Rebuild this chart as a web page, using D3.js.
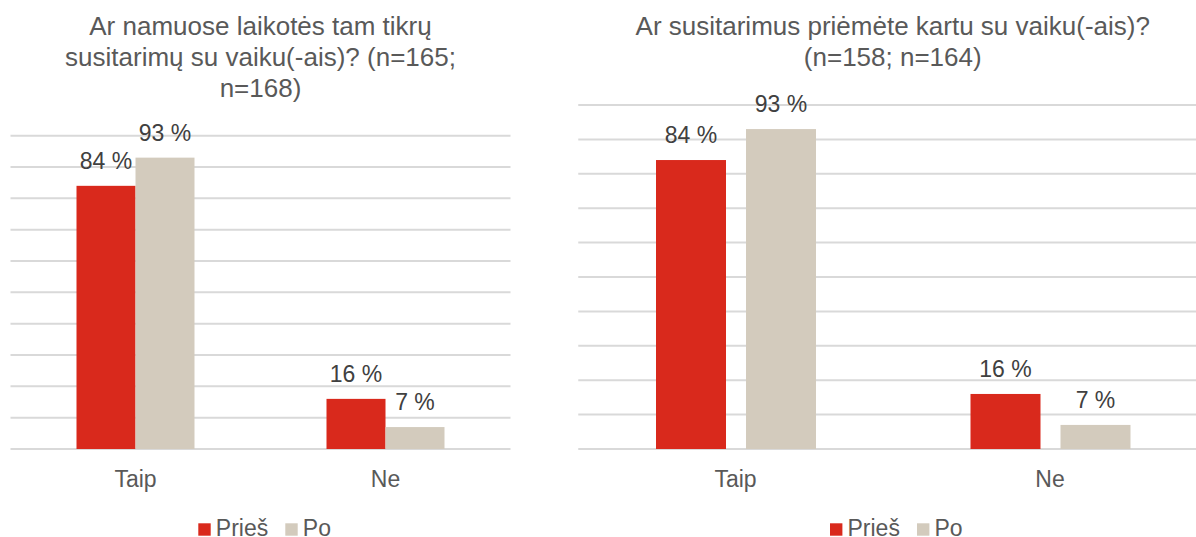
<!DOCTYPE html>
<html><head><meta charset="utf-8">
<script src="https://cdn.jsdelivr.net/npm/d3@7"></script>
<style>body{margin:0;background:#fff;overflow:hidden}svg{display:block;font-family:"Liberation Sans",Arial,sans-serif}</style>
</head><body><svg id="c" width="1196" height="537"></svg>
<script>
const categories = ["Taip", "Ne"];
const seriesNames = ["Prieš", "Po"];
const colors = ["#d9291c", "#d3cbbd"];
const chart1Title = ["Ar namuose laikotės tam tikrų", "susitarimų su vaiku(-ais)? (n=165;", "n=168)"];
const chart1Pries = [84, 16];
const chart1Po = [93, 7];
const chart2Title = ["Ar susitarimus priėmėte kartu su vaiku(-ais)?", "(n=158; n=164)"];
const chart2Pries = [84, 16];
const chart2Po = [93, 7];
const yTicks = [0,10,20,30,40,50,60,70,80,90,100];

const svg = d3.select("#c");

function drawChart(cfg){
  const g = svg.append("g");
  const y = d3.scaleLinear().domain([0,100]).range([cfg.bottom, cfg.top]);
  const x0 = d3.scaleBand().domain(categories).range([cfg.left, cfg.right]).paddingInner(0).paddingOuter(0);
  const x1 = d3.scaleBand().domain(seriesNames).range([cfg.groupOff, cfg.groupOff + cfg.groupW]).paddingInner(cfg.inner).paddingOuter(0);
  const cx = (cfg.left + cfg.right) / 2;
  // title
  g.append("text").attr("text-anchor","middle").attr("fill","#595959").attr("font-size",26)
    .selectAll("tspan").data(cfg.title).join("tspan")
    .attr("x",cx).attr("y",(d,i)=>35 + i*31).text(d=>d);
  // gridlines
  g.append("g").selectAll("line").data(yTicks).join("line")
    .attr("x1",cfg.left).attr("x2",Math.min(cfg.right,1196)).attr("y1",d=>y(d)).attr("y2",d=>y(d))
    .attr("stroke","#d9d9d9").attr("stroke-width",2);
  const rows = [];
  categories.forEach((c,i)=>{
    rows.push({c, s:seriesNames[0], v:cfg.pries[i], col:colors[0]});
    rows.push({c, s:seriesNames[1], v:cfg.po[i], col:colors[1]});
  });
  g.append("g").selectAll("rect").data(rows).join("rect")
    .attr("x",d=>x0(d.c)+x1(d.s)).attr("width",x1.bandwidth())
    .attr("y",d=>y(d.v)).attr("height",d=>y(0)-y(d.v)).attr("fill",d=>d.col);
  g.append("g").selectAll("text").data(rows).join("text")
    .attr("x",d=>x0(d.c)+x1(d.s)+x1.bandwidth()/2).attr("y",d=>y(d.v)-17)
    .attr("text-anchor","middle").attr("fill","#404040").attr("font-size",23)
    .text(d=>d.v+" %");
  // x axis labels
  g.append("g").selectAll("text").data(categories).join("text")
    .attr("x",d=>x0(d)+x0.bandwidth()/2).attr("y",487)
    .attr("text-anchor","middle").attr("fill","#595959").attr("font-size",23).text(d=>d);
  // legend
  const lg = g.append("g").attr("transform",`translate(${cfg.legendX},0)`);
  const items = [{n:seriesNames[0],c:colors[0],dx:0},{n:seriesNames[1],c:colors[1],dx:87}];
  items.forEach(it=>{
    lg.append("rect").attr("x",it.dx).attr("y",523.3).attr("width",12.4).attr("height",12.4).attr("fill",it.c);
    lg.append("text").attr("x",it.dx+17.5).attr("y",536).attr("fill","#595959").attr("font-size",23).text(it.n);
  });
}

drawChart({title:chart1Title, pries:chart1Pries, po:chart1Po,
  left:10.5, right:510.5, top:135.7, bottom:449, groupOff:66, groupW:118, inner:0, legendX:198.3});
drawChart({title:chart2Title, pries:chart2Pries, po:chart2Po,
  left:578.25, right:1207.25, top:105, bottom:449, groupOff:77.75, groupW:160, inner:0.2222, legendX:830});
</script></body></html>
